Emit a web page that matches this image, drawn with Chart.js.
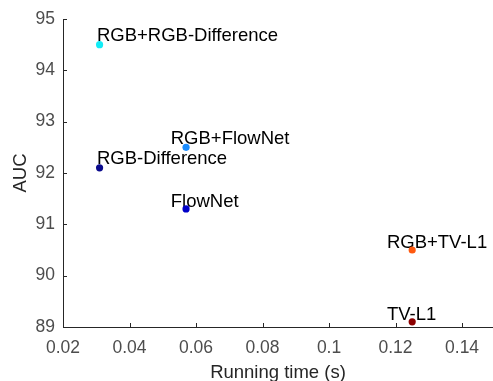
<!DOCTYPE html>
<html>
<head>
<meta charset="utf-8">
<script src="https://cdn.jsdelivr.net/npm/chart.js@4/dist/chart.umd.min.js"></script>
<style>
  html, body { margin: 0; padding: 0; background: #fff; }
  #wrap { width: 493px; height: 381px; }
</style>
</head>
<body>
<div id="wrap"><canvas id="chart" width="493" height="381"></canvas></div>
<script>
// methods: running time (s) vs AUC
const methods = ['RGB+RGB-Difference', 'RGB+FlowNet', 'RGB-Difference', 'FlowNet', 'RGB+TV-L1', 'TV-L1'];
const runTimes = [0.031, 0.057, 0.031, 0.057, 0.125, 0.125];
const aucValues = [94.5, 92.5, 92.1, 91.3, 90.5, 89.1];
const pointColors = ['#12ecf6', '#1a8cff', '#0a0a8c', '#0000c8', '#ff5a10', '#8c0000'];

// where each text label sits (data units, left/baseline)
const labelX = [0.0302, 0.0524, 0.0302, 0.0524, 0.1174, 0.1174];
const labelY = [94.57, 92.56, 92.18, 91.34, 90.54, 89.14];

const xTicks = [0.02, 0.04, 0.06, 0.08, 0.1, 0.12, 0.14];
const yTicks = [89, 90, 91, 92, 93, 94, 95];

const FONT = '"Liberation Sans", Arial, Helvetica, sans-serif';

// text labels next to points, drawn under the markers
const pointLabels = {
    id: 'pointLabels',
    beforeDatasetsDraw(chart) {
        const ctx = chart.ctx;
        const xs = chart.scales.x, ys = chart.scales.y;
        ctx.save();
        ctx.font = '18.5px ' + FONT;
        ctx.fillStyle = '#000';
        ctx.textAlign = 'left';
        ctx.textBaseline = 'alphabetic';
        methods.forEach((m, i) => {
            ctx.fillText(m, xs.getPixelForValue(labelX[i]), ys.getPixelForValue(labelY[i]));
        });
        ctx.restore();
    }
};

// matlab style inward tick marks
const innerTicks = {
    id: 'innerTicks',
    afterDraw(chart) {
        const ctx = chart.ctx;
        const xs = chart.scales.x, ys = chart.scales.y;
        const area = chart.chartArea;
        ctx.save();
        ctx.strokeStyle = '#262626';
        ctx.lineWidth = 1;
        ctx.beginPath();
        xTicks.forEach(v => {
            const px = Math.round(xs.getPixelForValue(v)) + 0.5;
            ctx.moveTo(px, area.bottom);
            ctx.lineTo(px, area.bottom - 4);
        });
        yTicks.forEach(v => {
            const py = Math.round(ys.getPixelForValue(v)) + 0.5;
            ctx.moveTo(area.left, py);
            ctx.lineTo(area.left + 4, py);
        });
        ctx.stroke();
        ctx.restore();
    }
};

new Chart(document.getElementById('chart'), {
    type: 'scatter',
    data: {
        datasets: [{
            data: runTimes.map((t, i) => ({ x: t, y: aucValues[i] })),
            backgroundColor: pointColors,
            borderWidth: 0,
            pointRadius: 3.6,
            pointHoverRadius: 3.6
        }]
    },
    options: {
        responsive: false,
        animation: false,
        events: [],
        layout: { autoPadding: false, padding: { top: 19, right: 0, left: 0, bottom: 0 } },
        plugins: {
            legend: { display: false },
            tooltip: { enabled: false }
        },
        scales: {
            x: {
                type: 'linear',
                min: 0.02,
                max: 0.1493,
                afterBuildTicks: s => { s.ticks = xTicks.map(v => ({ value: v })); },
                afterFit: s => { s.height = 54; s.paddingRight = 0; s.paddingLeft = 0; },
                grid: { display: true, drawOnChartArea: false, drawTicks: false },
                border: { display: true, color: '#262626', width: 1 },
                ticks: {
                    padding: 11,
                    color: '#4d4d4d',
                    font: { family: FONT, size: 17.5 },
                    maxRotation: 0,
                    autoSkip: false,
                    callback: v => String(+v.toFixed(2))
                },
                title: {
                    display: true,
                    text: 'Running time (s)',
                    color: '#262626',
                    font: { family: FONT, size: 18.5, lineHeight: 0.9 },
                    padding: { top: 0, bottom: 0 }
                }
            },
            y: {
                type: 'linear',
                min: 89,
                max: 95,
                afterBuildTicks: s => { s.ticks = yTicks.map(v => ({ value: v })); },
                afterFit: s => { s.width = 63; },
                grid: { display: true, drawOnChartArea: false, drawTicks: false },
                border: { display: true, color: '#262626', width: 1 },
                ticks: {
                    padding: 8,
                    color: '#4d4d4d',
                    font: { family: FONT, size: 17.5 },
                    autoSkip: false
                },
                title: {
                    display: true,
                    text: 'AUC',
                    color: '#262626',
                    font: { family: FONT, size: 18.5 },
                    padding: { top: 10, bottom: 0 }
                }
            }
        }
    },
    plugins: [pointLabels, innerTicks]
});
</script>
</body>
</html>
